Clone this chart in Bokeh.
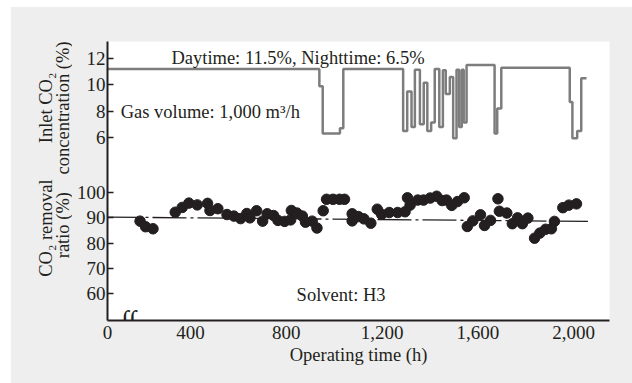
import math
from bokeh.plotting import figure
from bokeh.models import Range1d, FixedTicker, Label, Spacer
from bokeh.layouts import column, row
from bokeh.embed import file_html
from bokeh.resources import INLINE

# ---- data ----
# Inlet CO2 concentration: time where each level starts (h) and level (%)
conc_time = [53, 938, 952, 1024, 1038, 1288, 1305, 1323, 1337, 1358, 1374, 1389,
             1405, 1420, 1439, 1454, 1466, 1483, 1497, 1511, 1522, 1533, 1541,
             1553, 1670, 1681, 1698, 1984, 1995, 2015, 2032, 2054]
conc_value = [11.2, 9.9, 6.3, 6.7, 11.2, 6.5, 9.5, 6.8, 11.15, 7.0, 10.15, 6.5,
              7.15, 11.2, 6.8, 11.1, 9.3, 10.6, 5.95, 11.15, 6.8, 11.15, 7.15,
              11.5, 6.3, 8.2, 11.3, 8.7, 5.95, 6.5, 10.5, 10.5]

# CO2 removal ratio measurements
ratio_time = [189, 212, 243, 336, 365, 393, 428, 471, 481, 514, 552, 581, 609,
              635, 648, 676, 701, 720, 747, 765, 793, 818, 821, 844, 867, 880,
              908, 928, 954, 968, 995, 1022, 1043, 1075, 1075, 1101, 1124, 1153,
              1180, 1198, 1230, 1265, 1296, 1306, 1317, 1349, 1373, 1401, 1428,
              1451, 1469, 1491, 1515, 1543, 1556, 1579, 1611, 1628, 1653, 1684,
              1690, 1721, 1744, 1766, 1786, 1809, 1837, 1859, 1883, 1907, 1920,
              1955, 1980, 2012]
ratio_value = [88.6, 86.4, 85.6, 92.1, 94.0, 95.7, 95.0, 95.6, 92.8, 93.5, 91.2,
               90.6, 89.6, 91.6, 89.9, 92.7, 88.6, 91.5, 90.8, 88.9, 88.5, 89.1,
               92.8, 91.8, 90.6, 88.2, 88.6, 85.9, 92.7, 97.2, 97.2, 97.2, 97.2,
               91.5, 88.7, 90.4, 89.5, 87.8, 93.3, 91.3, 92.0, 92.0, 92.3, 97.8,
               94.9, 96.9, 96.9, 97.7, 98.4, 96.7, 96.9, 94.8, 96.3, 97.8, 86.5,
               88.7, 91.1, 86.9, 88.9, 97.4, 92.5, 91.8, 87.6, 89.9, 87.6, 89.8,
               81.9, 83.9, 85.4, 85.6, 88.5, 93.9, 94.9, 95.4]

# trend line of removal ratio
trend_time = [53, 2060]
trend_value = [90.2, 88.5]

x_ticks = [53, 400, 800, 1200, 1600, 2000]
x_tick_labels = ["0", "400", "800", "1,200", "1,600", "2,000"]
conc_ticks = [6, 8, 10, 12]
conc_tick_labels = ["6", "8", "10", "12"]
ratio_ticks = [60, 70, 80, 90, 100]

# ---- ranges (the two panels share one frame) ----
X0, X1 = 53, 2150
R0, R1 = 49.5, 159.3      # removal ratio scale (main y range)
C0, C1 = -7.89, 13.29     # inlet concentration scale (extra y range)

FONT = "Liberation Serif"
INK = "#231f20"
GRAY_BG = "#eeeeee"
FS = "18.5px"
TFS = "19px"

p = figure(width=560, height=376, x_range=Range1d(X0, X1), y_range=Range1d(R0, R1),
           output_backend="svg", toolbar_location=None,
           min_border_left=35, min_border_right=23, min_border_top=34,
           min_border_bottom=63)
p.extra_y_ranges = {"conc": Range1d(C0, C1)}
p.border_fill_color = GRAY_BG
p.background_fill_color = "white"
p.outline_line_color = None
p.xgrid.visible = False
p.ygrid.visible = False


def conc_on_ratio_axis(c):
    return round(R0 + (c - C0) * (R1 - R0) / (C1 - C0), 6)


conc_tick_pos = [conc_on_ratio_axis(c) for c in conc_ticks]

ya = p.yaxis[0]
ya.ticker = FixedTicker(ticks=ratio_ticks + conc_tick_pos)
ya.major_label_overrides = {t: l for t, l in zip(conc_tick_pos, conc_tick_labels)}
ya.axis_line_color = INK
ya.axis_line_width = 2
ya.major_tick_in = 6
ya.major_tick_out = 0
ya.major_tick_line_color = INK
ya.major_tick_line_width = 1.5
ya.minor_tick_line_color = None
ya.major_label_text_font = FONT
ya.major_label_text_font_size = TFS
ya.major_label_text_color = INK
ya.major_label_standoff = 2

xa = p.xaxis[0]
xa.ticker = FixedTicker(ticks=x_ticks)
xa.major_label_overrides = {t: l for t, l in zip(x_ticks, x_tick_labels)}
xa.axis_line_color = INK
xa.axis_line_width = 2
xa.major_tick_in = 0
xa.major_tick_out = 0
xa.minor_tick_line_color = None
xa.major_label_text_font = FONT
xa.major_label_text_font_size = TFS
xa.major_label_text_color = INK
xa.major_label_standoff = 5
xa.axis_label = "Operating time (h)"
xa.axis_label_text_font = FONT
xa.axis_label_text_font_size = FS
xa.axis_label_text_font_style = "normal"
xa.axis_label_text_color = INK
xa.axis_label_standoff = 3

# ---- marks ----
p.step(conc_time, conc_value, mode="after", line_color="#7d7d7d", line_width=2.5,
       y_range_name="conc")
p.line(trend_time, trend_value, line_color=INK, line_width=1.3,
       line_dash="34 4 3 4")
p.scatter(ratio_time, ratio_value, size=10.5, fill_color=INK, line_color=INK)


def txt(fig, x, y, s, yr="default", **kw):
    opts = dict(text_font=FONT, text_font_size=FS, text_color=INK,
                text_baseline="alphabetic")
    opts.update(kw)
    fig.add_layout(Label(x=x, y=y, text=s, y_range_name=yr, **opts))


txt(p, 320, 12.05, "Daytime: 11.5%, Nighttime: 6.5%", yr="conc")
txt(p, 108, 7.92, "Gas volume: 1,000 m\u00b3/h", yr="conc")
txt(p, 843, 59.7, "Solvent: H3")
# axis break mark on the time axis
txt(p, 141, R0, "\u222b\u222b", text_font_size="28px", text_align="center",
    text_baseline="middle")

# ---- y-axis titles panel (positions in panel pixels, y downward) ----
t = figure(width=61, height=376, x_range=Range1d(0, 61), y_range=Range1d(376, 0),
           output_backend="svg", toolbar_location=None,
           x_axis_location=None, y_axis_location=None,
           min_border_left=0, min_border_right=0, min_border_top=0,
           min_border_bottom=0)
t.border_fill_color = GRAY_BG
t.background_fill_color = GRAY_BG
t.outline_line_color = None
t.xgrid.visible = False
t.ygrid.visible = False

rot = dict(angle=math.pi / 2, text_align="center", text_baseline="alphabetic")
txt(t, 34, 89.5, "Inlet CO\u2082", **rot)
txt(t, 51, 89.5, "concentration (%)", **rot)
txt(t, 34, 251.5, "CO\u2082 removal", **rot)
txt(t, 51, 247.5, "ratio (%)", **rot)

chart = row(t, p, spacing=0, styles={"background-color": GRAY_BG})
layout = row(Spacer(width=11, height=383),
             column(Spacer(width=621, height=7), chart))
open("out.html", "w").write(file_html(layout, INLINE))
